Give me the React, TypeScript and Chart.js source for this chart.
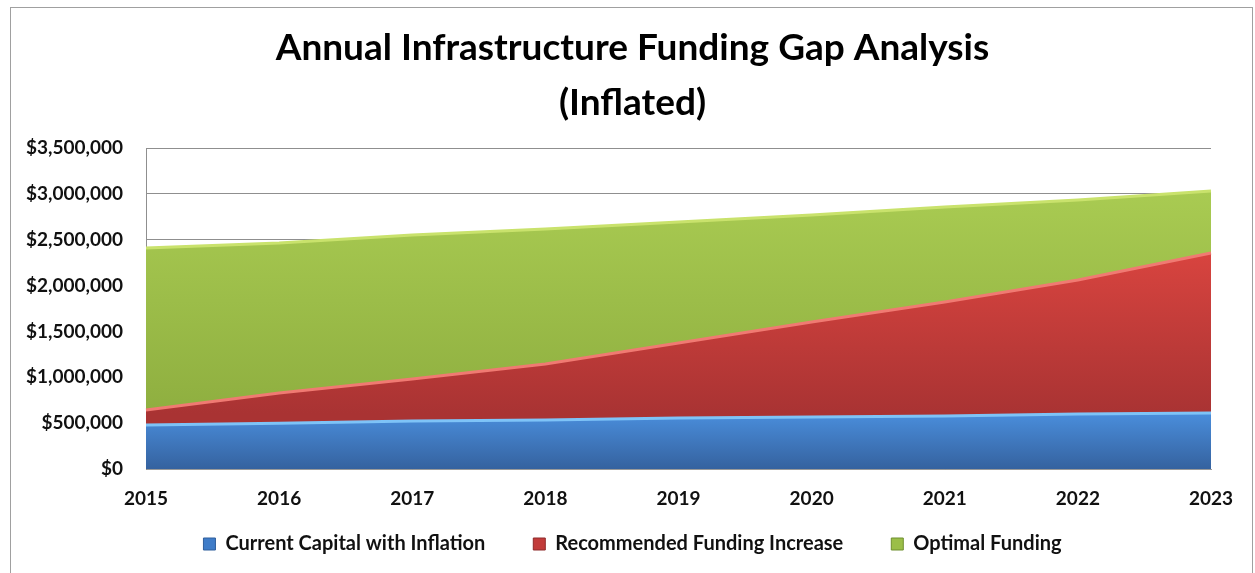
import React, { useEffect, useRef } from "react";
import { Chart, registerables } from "chart.js";

Chart.register(...registerables);

const years = ["2015", "2016", "2017", "2018", "2019", "2020", "2021", "2022", "2023"];
const currentCapital = [480000, 500000, 523000, 534000, 556000, 567000, 578000, 600000, 610000];
const recommendedIncrease = [163000, 329000, 458000, 611000, 818000, 1036000, 1243000, 1461000, 1745000];
const optimalFunding = [1767000, 1635000, 1570000, 1472000, 1319000, 1166000, 1036000, 872000, 676000];
const yTicks = [0, 500000, 1000000, 1500000, 2000000, 2500000, 3000000, 3500000];

const titleLines = ["Annual Infrastructure Funding Gap Analysis", "(Inflated)"];
const seriesNames = ["Current Capital with Inflation", "Recommended Funding Increase", "Optimal Funding"];

const FONT = 'Lato, "Open Sans", sans-serif';

function fmtMoney(v: number) {
  return "$" + Math.round(v).toLocaleString("en-US");
}

export default function App() {
  const ref = useRef<HTMLCanvasElement | null>(null);

  useEffect(() => {
    if (!ref.current) return;
    const redTotals = currentCapital.map((v, i) => v + recommendedIncrease[i]);
    const greenTotals = redTotals.map((v, i) => v + optimalFunding[i]);

    const grad = (
      topVal: number,
      botVal: number,
      c1: string,
      c2: string,
      fallback: string
    ) => (ctx: any) => {
      const chart = ctx.chart;
      if (!chart.chartArea || !chart.scales || !chart.scales.y) return fallback;
      const y = chart.scales.y;
      const top = y.getPixelForValue(topVal);
      const bot = y.getPixelForValue(botVal);
      if (!isFinite(top) || !isFinite(bot) || top === bot) return fallback;
      const g = chart.ctx.createLinearGradient(0, top, 0, bot);
      g.addColorStop(0, c1);
      g.addColorStop(1, c2);
      return g;
    };

    const blueBg = grad(Math.max(...currentCapital), 0, "#4A8EDC", "#35629F", "#3F7AC4");
    const redBg = grad(Math.max(...redTotals), Math.max(...currentCapital), "#D8443F", "#A93333", "#C23B3A");
    const greenBg = grad(Math.max(...greenTotals), Math.min(...redTotals), "#A9CB52", "#8FAF40", "#9BBE48");

    const chart = new Chart(ref.current, {
      type: "line",
      data: {
        labels: years,
        datasets: [
          {
            label: seriesNames[0],
            data: currentCapital,
            fill: "origin",
            backgroundColor: blueBg,
            borderColor: "#7EC3F7",
            borderWidth: 3,
            pointRadius: 0,
            tension: 0,
          },
          {
            label: seriesNames[1],
            data: recommendedIncrease,
            fill: "-1",
            backgroundColor: redBg,
            borderColor: "#F07A72",
            borderWidth: 3,
            pointRadius: 0,
            tension: 0,
          },
          {
            label: seriesNames[2],
            data: optimalFunding,
            fill: "-1",
            backgroundColor: greenBg,
            borderColor: "#C9E26C",
            borderWidth: 3,
            pointRadius: 0,
            tension: 0,
          },
        ],
      },
      options: {
        animation: false,
        responsive: false,
        devicePixelRatio: 1,
        layout: { padding: { left: 10, right: 0, top: 0, bottom: 9 } },
        interaction: { mode: "index", intersect: false },
        plugins: {
          tooltip: { enabled: false },
          title: {
            display: true,
            text: titleLines,
            color: "#000",
            font: { family: FONT, size: 37, weight: "bold", lineHeight: "55px" },
            padding: { top: 21, bottom: 17 },
          },
          legend: {
            display: true,
            position: "bottom",
            labels: {
              color: "#111",
              font: { family: FONT, size: 20, weight: "bold" },
              boxWidth: 12,
              boxHeight: 12,
              padding: 48,
              generateLabels: (c: any) => {
                const items = Chart.defaults.plugins.legend.labels.generateLabels(c);
                const fills = ["#3F7CC8", "#C23B3A", "#9BBE48"];
                const strokes = ["#2F5E9C", "#8E2A2A", "#6F8F2E"];
                return items.map((it: any, i: number) => ({
                  ...it,
                  fillStyle: fills[i],
                  strokeStyle: strokes[i],
                  lineWidth: 1,
                }));
              },
            },
          },
        },
        scales: {
          x: {
            type: "category",
            offset: false,
            grid: { color: "transparent", drawTicks: false },
            border: { display: true, color: "#9a9a9a", width: 1 },
            ticks: {
              color: "#111",
              font: { family: FONT, size: 19, weight: "bold" },
              padding: 18,
              maxRotation: 0,
              autoSkip: false,
            },
            afterFit: (s: any) => {
              s.height = 17;
              s._computeLabelArea = () => undefined;
            },
          },
          y: {
            type: "linear",
            stacked: true,
            min: 0,
            max: 3500000,
            afterBuildTicks: (s: any) => {
              s.ticks = yTicks.map((v) => ({ value: v }));
            },
            grid: { color: "#8f8f8f", lineWidth: 1, drawTicks: false },
            border: { display: true, color: "#8f8f8f", width: 1 },
            ticks: {
              color: "#111",
              font: { family: FONT, size: 19, weight: "bold" },
              padding: 23,
              callback: (v: any) => fmtMoney(Number(v)),
            },
            afterFit: (s: any) => {
              s.width = 136;
            },
          },
          yRight: {
            type: "linear",
            position: "right",
            display: true,
            grid: { display: false, drawTicks: false },
            border: { display: false },
            ticks: { display: false },
            afterFit: (s: any) => {
              s.width = 44;
            },
          },
        },
      },
    });
    return () => chart.destroy();
  }, []);

  return (
    <div
      style={{
        position: "fixed",
        left: 0,
        top: 0,
        width: 1255,
        height: 573,
        overflow: "hidden",
        background: "#fff",
      }}
    >
      <canvas ref={ref} width={1255} height={573} style={{ display: "block", width: 1255, height: 573 }} />
      <div
        style={{
          position: "absolute",
          left: 10,
          top: 7,
          width: 1241,
          height: 620,
          border: "1px solid #a0a0a0",
          pointerEvents: "none",
        }}
      />
    </div>
  );
}
